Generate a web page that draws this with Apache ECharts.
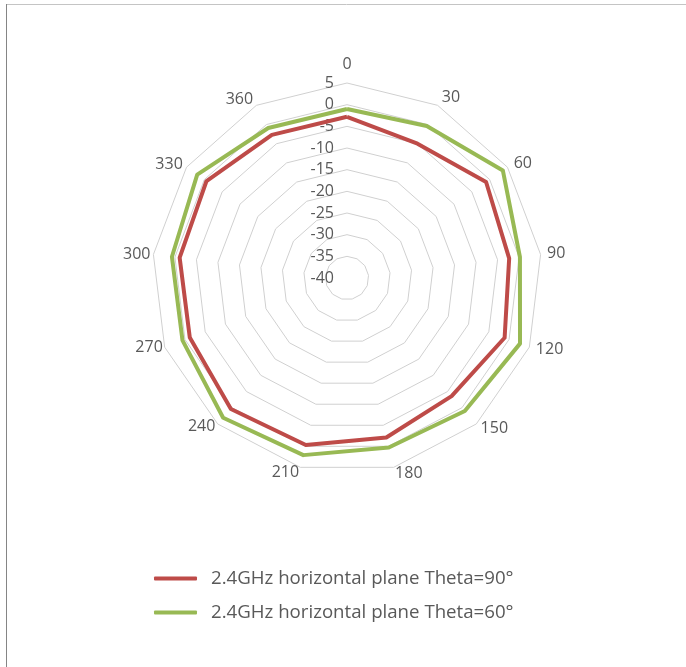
<!DOCTYPE html>
<html>
<head>
<meta charset="utf-8">
<script src="https://cdn.jsdelivr.net/npm/echarts@6/dist/echarts.min.js"></script>
<style>
html,body{margin:0;padding:0;background:#fff;}
#chart{width:686px;height:667px;}
</style>
</head>
<body>
<div id="chart"></div>
<script>
const categories = ['0','30','60','90','120','150','180','210','240','270','300','330','360'];
const seriesNames = ['2.4GHz horizontal plane Theta=90°', '2.4GHz horizontal plane Theta=60°'];
const theta90 = [-2.8, -5.0, -1.0, -2.3, -1.1, -3.6, -2.1, -0.3, 0.4, -1.2, -1.1, -0.6, -2.7];
const theta60 = [-1.0, -0.4, 3.7, 0.2, 2.7, 1.0, 0.3, 2.1, 3.1, 0.6, 0.7, 2.0, -0.9];
const axisMin = -40;
const axisMax = 5;
const axisStep = 5;

// Style: distance of each category label from the outer ring (px)
const labelGaps = { '0': 11, '30': 9, '60': 7.5, '90': 6.5, '120': 7, '150': 6.5, '180': 6,
                    '210': 5, '240': 3.5, '270': 2, '300': 3, '330': 4.5, '360': 7 };

// ECharts radar runs counter-clockwise; reorder so categories go clockwise from top.
const order = categories.map((_, i) => (i === 0 ? 0 : categories.length - i));
const reorder = arr => order.map(i => arr[i]);

const chart = echarts.init(document.getElementById('chart'));
const font = '"Open Sans", "Noto Sans", sans-serif';
const indicators = reorder(categories).map((c, i) => {
  const ind = { name: c, min: axisMin, max: axisMax, nameGap: labelGaps[c] };
  if (i === 0) ind.axisLabel = { show: true };
  return ind;
});
chart.setOption({
  animation: false,
  color: ['#BE4B48', '#98B954'],
  graphic: [
    { type: 'line', shape: { x1: 6, y1: 4.5, x2: 700, y2: 4.5 },
      style: { stroke: '#c4c4c4', lineWidth: 1 }, silent: true, z: -1 },
    { type: 'line', shape: { x1: 6.5, y1: 4, x2: 6.5, y2: 700 },
      style: { stroke: '#858585', lineWidth: 1 }, silent: true, z: -1 }
  ],
  radar: {
    center: [347, 278],
    radius: 195,
    splitNumber: (axisMax - axisMin) / axisStep,
    indicator: indicators,
    shape: 'polygon',
    axisName: { color: '#595959', fontSize: 16, fontFamily: font },
    splitLine: { lineStyle: { color: '#d0d0d0', width: 1 } },
    splitArea: { show: false },
    axisLine: { show: false },
    axisTick: { show: false },
    axisLabel: { show: false, color: '#595959', fontSize: 16, fontFamily: font, margin: 13 }
  },
  legend: {
    orient: 'vertical',
    left: 154,
    top: 569,
    padding: 0,
    itemWidth: 43,
    itemHeight: 4,
    itemGap: 15,
    icon: 'roundRect',
    textStyle: { color: '#595959', fontSize: 18.67, fontFamily: font, padding: [0, 0, 0, 9] },
    data: seriesNames
  },
  series: [{
    type: 'radar',
    symbol: 'none',
    data: [
      { name: seriesNames[0], value: reorder(theta90), lineStyle: { width: 4, color: '#BE4B48' }, itemStyle: { color: '#BE4B48' } },
      { name: seriesNames[1], value: reorder(theta60), lineStyle: { width: 4, color: '#98B954' }, itemStyle: { color: '#98B954' } }
    ]
  }]
});
</script>
</body>
</html>
